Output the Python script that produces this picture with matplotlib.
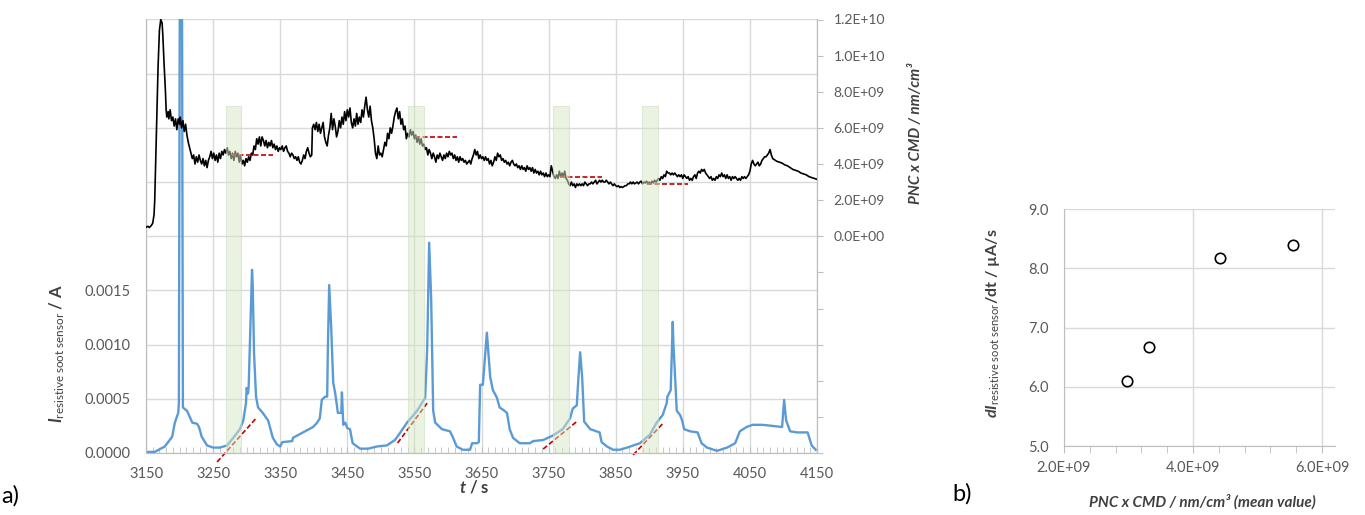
import matplotlib
matplotlib.use('Agg')
import matplotlib.pyplot as plt
from matplotlib.ticker import FixedLocator, MultipleLocator, FuncFormatter

plt.rcParams['font.family'] = ['Lato', 'DejaVu Sans']
plt.rcParams['mathtext.fontset'] = 'custom'
plt.rcParams['mathtext.rm'] = 'Lato'
plt.rcParams['mathtext.it'] = 'Lato:italic'
plt.rcParams['mathtext.bf'] = 'Lato:bold'
plt.rcParams['mathtext.bfit'] = 'Lato:italic:bold'

# --- sensor current (left axis, A) ---
sensor_t = [3150, 3163, 3178, 3189, 3193, 3198, 3199, 3201, 3203, 3205, 3211, 3214, 3219, 3226,
            3229, 3233, 3241, 3250, 3260, 3271, 3280, 3290, 3295, 3299, 3300, 3302, 3303, 3306,
            3308, 3309, 3311, 3314, 3317, 3324, 3332, 3339, 3345, 3350, 3353, 3368, 3369, 3384,
            3399, 3405, 3409, 3412, 3417, 3420, 3421, 3423, 3426, 3429, 3432, 3436, 3441, 3442,
            3444, 3447, 3450, 3454, 3458, 3469, 3481, 3494, 3509, 3521, 3528, 3539, 3554, 3566,
            3569, 3572, 3575, 3578, 3581, 3591, 3603, 3607, 3613, 3622, 3633, 3636, 3643, 3646,
            3648, 3652, 3658, 3663, 3667, 3673, 3677, 3682, 3688, 3692, 3697, 3707, 3722, 3727,
            3742, 3756, 3771, 3782, 3786, 3792, 3794, 3797, 3800, 3803, 3812, 3826, 3829, 3837,
            3846, 3856, 3867, 3886, 3901, 3911, 3920, 3926, 3927, 3932, 3935, 3936, 3941, 3946,
            3949, 3952, 3961, 3972, 3978, 3986, 4001, 4016, 4028, 4035, 4045, 4054, 4069, 4084,
            4098, 4101, 4104, 4110, 4120, 4136, 4142, 4148]
sensor_i = [0.00001, 0.00001, 0.00006, 0.00015, 0.00028, 0.00037, 0.00046, 0.0060, 0.0060, 0.00042,
            0.00039, 0.00035, 0.00028, 0.00027, 0.00024, 0.00015, 0.00007, 0.00005, 0.00005, 0.00007,
            0.00014, 0.00022, 0.00030, 0.00046, 0.00060, 0.00055, 0.00061, 0.00126, 0.00169, 0.00156,
            0.00092, 0.00052, 0.00042, 0.00037, 0.00030, 0.00014, 0.00008, 0.00006, 0.00010, 0.00011,
            0.00014, 0.00019, 0.00024, 0.00028, 0.00032, 0.00049, 0.00052, 0.00052, 0.00095, 0.00155,
            0.00116, 0.00065, 0.00055, 0.00037, 0.00037, 0.00056, 0.00026, 0.00028, 0.00023, 0.00022,
            0.00009, 0.00004, 0.00004, 0.00006, 0.00007, 0.00012, 0.00018, 0.00028, 0.00039, 0.00051,
            0.00095, 0.00194, 0.00142, 0.00039, 0.00028, 0.00022, 0.00020, 0.00015, 0.00006, 0.00003,
            0.00003, 0.00009, 0.00009, 0.00010, 0.00063, 0.00063, 0.00111, 0.00070, 0.00058, 0.00051,
            0.00042, 0.00040, 0.00037, 0.00022, 0.00014, 0.00009, 0.00009, 0.00011, 0.00012, 0.00016,
            0.00022, 0.00032, 0.00041, 0.00044, 0.00065, 0.00093, 0.00070, 0.00029, 0.00022, 0.00019,
            0.00010, 0.00006, 0.00003, 0.00003, 0.00005, 0.00009, 0.00017, 0.00028, 0.00035, 0.00046,
            0.00052, 0.00058, 0.00121, 0.00101, 0.00039, 0.00035, 0.00030, 0.00022, 0.00020, 0.00019,
            0.00009, 0.00005, 0.00002, 0.00005, 0.00009, 0.00020, 0.00024, 0.00026, 0.00026, 0.00025,
            0.00024, 0.00049, 0.00030, 0.00020, 0.00019, 0.00019, 0.00007, 0.00003]

# --- PNC x CMD (right axis, nm/cm3), read as pairs t / value(1e9) ---
pnc_pairs = [
    (3150, 0.50), (3153, 0.55), (3155, 0.48), (3158, 0.60), (3160, 0.72), (3162, 1.2), (3163, 2.0),
    (3165, 5.0), (3168, 9.4), (3170, 11.4), (3172, 12.0), (3174, 11.8), (3175, 11.2), (3177, 9.5),
    (3179, 8.0), (3180, 7.0), (3181, 6.6), (3183, 6.9), (3184, 6.5), (3186, 7.0), (3188, 6.4),
    (3190, 6.6), (3192, 6.1), (3194, 6.5), (3196, 5.9), (3198, 6.5), (3200, 6.2), (3201, 6.6),
    (3203, 6.0), (3205, 6.4), (3207, 5.8), (3209, 6.2), (3211, 5.6), (3213, 5.2), (3215, 4.9),
    (3217, 4.6), (3219, 4.3), (3221, 4.5), (3223, 4.0), (3225, 4.4), (3227, 4.1), (3229, 4.5),
    (3231, 4.2), (3233, 4.0), (3235, 4.3), (3237, 3.9), (3239, 4.2), (3241, 3.8), (3243, 4.2),
    (3245, 4.4), (3247, 4.7), (3249, 4.3), (3251, 4.6), (3253, 4.2), (3255, 4.5), (3257, 4.1),
    (3259, 4.6), (3261, 4.3), (3263, 4.7), (3265, 4.5), (3267, 4.8), (3269, 4.6), (3271, 4.9),
    (3273, 4.5), (3275, 4.7), (3277, 4.3), (3279, 4.6), (3281, 4.2), (3283, 4.7), (3285, 4.4),
    (3287, 4.6), (3289, 4.1), (3291, 4.5), (3293, 4.0), (3295, 4.2), (3297, 3.9), (3299, 4.3),
    (3301, 4.1), (3303, 4.4), (3305, 4.2), (3307, 4.6), (3309, 4.5), (3311, 5.0), (3313, 4.8),
    (3315, 5.4), (3317, 5.1), (3319, 5.5), (3321, 5.0), (3323, 5.5), (3325, 5.3), (3327, 5.0),
    (3329, 5.3), (3331, 4.9), (3333, 5.2), (3335, 5.0), (3337, 5.3), (3339, 4.9), (3341, 5.1),
    (3343, 4.8), (3345, 5.0), (3347, 4.7), (3349, 4.9), (3351, 4.8), (3353, 5.0), (3355, 4.7),
    (3357, 4.9), (3359, 5.0), (3361, 4.7), (3363, 4.6), (3365, 4.4), (3367, 4.6), (3369, 4.5),
    (3371, 4.3), (3373, 4.4), (3375, 4.2), (3377, 4.4), (3379, 4.1), (3381, 4.0), (3383, 4.2),
    (3385, 4.5), (3387, 4.3), (3389, 4.7), (3391, 4.9), (3393, 4.6), (3395, 4.4), (3397, 4.5),
    (3398, 6.0), (3400, 6.2), (3402, 5.9), (3404, 6.3), (3406, 5.8), (3408, 6.2), (3410, 5.7),
    (3412, 6.0), (3414, 6.3), (3416, 5.5), (3418, 5.2), (3420, 5.0), (3422, 5.6), (3424, 6.0),
    (3426, 6.8), (3428, 5.9), (3430, 6.5), (3432, 6.1), (3434, 5.5), (3436, 5.8), (3438, 6.4),
    (3440, 6.0), (3442, 6.6), (3444, 6.2), (3446, 6.9), (3448, 6.4), (3450, 7.0), (3452, 6.6),
    (3454, 7.1), (3456, 6.3), (3458, 6.0), (3460, 6.5), (3462, 6.1), (3464, 6.8), (3466, 6.2),
    (3468, 6.6), (3470, 6.3), (3472, 7.0), (3474, 6.6), (3476, 7.2), (3478, 7.7), (3480, 7.0),
    (3482, 6.6), (3484, 7.2), (3486, 6.4), (3488, 6.0), (3490, 5.4), (3492, 4.6), (3494, 4.3),
    (3496, 5.0), (3498, 4.5), (3500, 4.6), (3502, 4.4), (3504, 4.8), (3506, 5.2), (3508, 5.0),
    (3510, 5.7), (3512, 5.4), (3514, 6.0), (3516, 5.7), (3518, 6.1), (3520, 6.6), (3522, 6.9),
    (3524, 7.1), (3526, 6.5), (3528, 6.9), (3530, 6.2), (3532, 6.5), (3534, 5.9), (3536, 6.1),
    (3538, 5.4), (3540, 5.7), (3542, 5.5), (3544, 5.9), (3546, 5.6), (3548, 5.8), (3550, 5.4),
    (3552, 5.6), (3554, 5.2), (3556, 5.5), (3558, 5.1), (3560, 5.4), (3562, 5.0), (3564, 5.1),
    (3566, 4.8), (3568, 4.9), (3570, 4.5), (3572, 4.8), (3574, 4.6), (3576, 4.3), (3578, 4.6),
    (3580, 4.4), (3582, 4.1), (3584, 4.5), (3586, 4.3), (3588, 4.6), (3590, 4.4), (3592, 4.2),
    (3594, 4.5), (3596, 4.3), (3598, 4.6), (3600, 4.4), (3602, 4.7), (3604, 4.5), (3606, 4.6),
    (3608, 4.3), (3610, 4.5), (3612, 4.2), (3614, 4.4), (3616, 4.1), (3618, 4.4), (3620, 4.2),
    (3622, 4.3), (3624, 4.1), (3626, 4.2), (3628, 4.0), (3630, 4.1), (3632, 4.2), (3634, 4.0),
    (3636, 4.3), (3638, 4.5), (3640, 4.8), (3642, 4.5), (3644, 4.7), (3646, 4.3), (3648, 4.5),
    (3650, 4.3), (3652, 4.4), (3654, 4.2), (3656, 4.4), (3658, 4.2), (3660, 4.3), (3662, 4.0),
    (3664, 4.2), (3666, 3.9), (3668, 4.1), (3670, 4.4), (3672, 4.2), (3674, 4.6), (3676, 4.4),
    (3678, 4.5), (3680, 4.2), (3682, 4.3), (3684, 4.1), (3686, 4.2), (3688, 4.0), (3690, 4.1),
    (3692, 3.9), (3694, 4.1), (3696, 4.2), (3698, 4.0), (3700, 3.9), (3702, 4.0), (3704, 3.8),
    (3706, 3.9), (3708, 3.7), (3710, 3.9), (3712, 3.7), (3714, 3.8), (3716, 3.6), (3718, 3.9),
    (3720, 3.7), (3722, 3.8), (3724, 3.6), (3726, 3.8), (3728, 3.5), (3730, 3.7), (3732, 3.5),
    (3734, 3.6), (3736, 3.4), (3738, 3.6), (3740, 3.4), (3742, 3.5), (3744, 3.3), (3746, 3.5),
    (3748, 3.3), (3750, 3.4), (3752, 3.3), (3754, 3.9), (3756, 3.6), (3758, 3.3), (3760, 3.2),
    (3762, 3.4), (3764, 3.2), (3766, 3.6), (3768, 3.3), (3770, 3.5), (3772, 3.3), (3774, 3.6),
    (3776, 3.2), (3778, 3.1), (3780, 2.9), (3782, 2.8), (3784, 3.0), (3786, 2.8), (3788, 2.9),
    (3790, 2.7), (3792, 2.9), (3794, 2.8), (3796, 2.9), (3798, 2.8), (3800, 2.9), (3802, 2.8),
    (3804, 3.0), (3806, 2.9), (3808, 2.8), (3810, 2.9), (3812, 2.9), (3814, 3.0), (3816, 2.9),
    (3818, 3.0), (3820, 3.1), (3822, 2.9), (3824, 3.0), (3826, 3.1), (3828, 3.0), (3830, 3.1),
    (3832, 3.0), (3834, 3.0), (3836, 3.1), (3838, 3.0), (3840, 2.9), (3842, 3.0), (3844, 2.9),
    (3846, 2.8), (3848, 2.9), (3850, 2.8), (3852, 2.75), (3854, 2.8), (3856, 2.7), (3858, 2.75),
    (3860, 2.7), (3862, 2.75), (3864, 2.8), (3866, 2.8), (3868, 2.9), (3870, 2.9), (3872, 3.0),
    (3874, 2.9), (3876, 3.0), (3878, 2.9), (3880, 2.95), (3882, 3.0), (3884, 2.9), (3886, 3.0),
    (3888, 3.05), (3890, 2.9), (3892, 3.0), (3894, 2.95), (3896, 3.05), (3898, 2.9), (3900, 3.0),
    (3902, 2.9), (3904, 3.05), (3906, 2.95), (3908, 3.1), (3910, 3.0), (3912, 3.1), (3914, 3.2),
    (3916, 3.1), (3918, 3.3), (3920, 3.2), (3922, 3.4), (3924, 3.3), (3926, 3.6), (3928, 3.5),
    (3930, 3.5), (3932, 3.4), (3934, 3.5), (3936, 3.4), (3938, 3.5), (3940, 3.4), (3942, 3.3),
    (3944, 3.4), (3946, 3.3), (3948, 3.4), (3950, 3.2), (3952, 3.4), (3954, 3.3), (3956, 3.2),
    (3958, 3.3), (3960, 3.1), (3962, 3.2), (3964, 3.1), (3966, 3.3), (3968, 3.4), (3970, 3.2),
    (3972, 3.5), (3974, 3.6), (3976, 3.5), (3978, 3.7), (3980, 3.6), (3982, 3.7), (3984, 3.5),
    (3986, 3.4), (3988, 3.3), (3990, 3.2), (3992, 3.3), (3994, 3.1), (3996, 3.2), (3998, 3.1),
    (4000, 3.3), (4002, 3.2), (4004, 3.4), (4006, 3.3), (4008, 3.5), (4010, 3.3), (4012, 3.4),
    (4014, 3.2), (4016, 3.4), (4018, 3.2), (4020, 3.3), (4022, 3.1), (4024, 3.3), (4026, 3.2),
    (4028, 3.3), (4030, 3.2), (4032, 3.1), (4034, 3.2), (4036, 3.1), (4038, 3.3), (4040, 3.2),
    (4042, 3.3), (4044, 3.2), (4046, 3.3), (4048, 3.4), (4050, 3.6), (4052, 4.0), (4054, 4.2),
    (4056, 4.0), (4058, 3.9), (4060, 4.0), (4062, 4.1), (4064, 3.9), (4066, 4.0), (4068, 4.2),
    (4070, 4.3), (4072, 4.4), (4074, 4.4), (4076, 4.5), (4078, 4.6), (4080, 4.8), (4082, 4.5),
    (4084, 4.3), (4086, 4.25), (4088, 4.2), (4090, 4.15), (4094, 4.1), (4098, 4.05), (4102, 3.95),
    (4106, 3.9), (4110, 3.8), (4114, 3.7), (4118, 3.65), (4122, 3.6), (4126, 3.5), (4130, 3.45),
    (4134, 3.4), (4138, 3.3), (4142, 3.25), (4146, 3.2), (4150, 3.15)]
pnc_t = [p[0] for p in pnc_pairs]
pnc_val = [p[1] * 1e9 for p in pnc_pairs]

# evaluation windows (green), mean PNC lines and current slopes
window_start = [3269, 3540, 3757, 3889]
window_end = [3292, 3564, 3780, 3913]
window_top = 7.2e9
mean_t0 = [3277, 3551, 3767, 3897]
mean_t1 = [3339, 3613, 3830, 3958]
mean_pnc = [4.5e9, 5.5e9, 3.28e9, 2.9e9]
slope_t0 = [3256, 3525, 3742, 3876]
slope_t1 = [3314, 3569, 3792, 3920]
slope_i0 = [-0.000083, 0.000092, 0.000037, -0.000018]
slope_i1 = [0.00032, 0.00046, 0.00029, 0.00027]

# x ticks of a)
t_major = [3150, 3250, 3350, 3450, 3550, 3650, 3750, 3850, 3950, 4050, 4150]

# scatter b)
scat_pnc = [2.98e9, 3.32e9, 4.42e9, 5.55e9]
scat_slope = [6.1, 6.67, 8.17, 8.4]

grid_c = '#d9d9d9'
axis_c = '#bfbfbf'
tick_c = '#595959'
label_c = '#404040'

fig = plt.figure(figsize=(13.65, 5.15), dpi=100)

# ---------------- a) ----------------
ax = fig.add_axes([146 / 1365, 62 / 515, 671 / 1365, 433.5 / 515])
ax2 = ax.twinx()

ax.plot(sensor_t, sensor_i, color='#5b9bd5', lw=1.7, zorder=3)
for t0, t1, i0, i1 in zip(slope_t0, slope_t1, slope_i0, slope_i1):
    ax.plot([t0, t1], [i0, i1], color='#c00000', lw=1.2, ls=(0, (3, 1.5)), clip_on=False, zorder=4)

ax2.plot(pnc_t, pnc_val, color='black', lw=1.2, zorder=3)
for t0, t1, p in zip(mean_t0, mean_t1, mean_pnc):
    ax2.plot([t0, t1], [p, p], color='#c00000', lw=1.2, ls=(0, (3, 1.5)), zorder=4)
for s, e in zip(window_start, window_end):
    ax2.bar(s, window_top + 1.2e10, width=e - s, bottom=-1.2e10, align='edge',
            color='#d7e7c7', alpha=0.5, edgecolor='#c9dcb8', lw=0.8, zorder=5)

ax.set_xlim(3150, 4150)
ax.set_ylim(0, 0.004)
ax2.set_ylim(-1.2e10, 1.2e10)

ax.xaxis.set_major_locator(FixedLocator(t_major))
ax.xaxis.set_minor_locator(MultipleLocator(10))
ax.yaxis.set_major_locator(MultipleLocator(0.0005))
ax.yaxis.set_major_formatter(FuncFormatter(lambda v, p: f'{v:.4f}' if v < 0.0016 else ''))
ax2.yaxis.set_major_locator(MultipleLocator(2e9))
ax2.yaxis.set_major_formatter(FuncFormatter(lambda v, p: f'{v:.1E}' if v > -1e8 else ''))

ax.grid(True, which='major', color=grid_c, lw=1)
ax.set_axisbelow(True)
for a in (ax, ax2):
    a.spines['top'].set_visible(False)
    for sp in ['left', 'bottom', 'right']:
        a.spines[sp].set_color(axis_c)

ax.tick_params(axis='x', which='both', direction='in', length=4, color=axis_c,
               labelsize=10.5, labelcolor=tick_c, pad=10)
ax.tick_params(axis='y', length=0, labelsize=10.5, labelcolor=tick_c, pad=11)
ax2.tick_params(axis='y', direction='out', length=4, color=axis_c,
                labelsize=10, labelcolor=tick_c, pad=8)

ax.set_xlabel(r'$\mathbfit{t}$ / s', fontsize=12, fontweight='bold', color=label_c, va='center')
ax.xaxis.set_label_coords(0.49, -0.078)
ax.set_ylabel(r'$\mathbfit{I}_{\mathrm{resistive\ soot\ sensor}}$ / A', fontsize=12,
              fontweight='bold', color=label_c, va='center')
ax.yaxis.set_label_coords(-0.133, 0.23)
ax2.set_ylabel('PNC x CMD / nm/cm³', fontsize=11, fontweight='bold', fontstyle='italic',
               color=label_c, va='center')
ax2.yaxis.set_label_coords(1.148, 0.738)

# ---------------- b) ----------------
bx = fig.add_axes([1064 / 1365, 69 / 515, 271 / 1365, 237 / 515])
bx.plot(scat_pnc, scat_slope, 'o', ms=7.5, mfc='white', mec='black', mew=1.2, zorder=3)
bx.set_xlim(2e9, 6.2e9)
bx.set_ylim(5, 9)
bx.xaxis.set_major_locator(FixedLocator([2e9, 4e9, 6e9]))
bx.xaxis.set_minor_locator(MultipleLocator(4e8))
bx.xaxis.set_major_formatter(FuncFormatter(lambda v, p: f'{v:.1E}'))
bx.yaxis.set_major_locator(MultipleLocator(1))
bx.yaxis.set_major_formatter(FuncFormatter(lambda v, p: f'{v:.1f}'))
bx.grid(True, which='major', color=grid_c, lw=1)
bx.set_axisbelow(True)
for sp in ['top', 'right']:
    bx.spines[sp].set_visible(False)
for sp in ['left', 'bottom']:
    bx.spines[sp].set_color(axis_c)
bx.tick_params(axis='x', which='both', direction='out', length=5, color=axis_c,
               labelsize=10.5, labelcolor=tick_c, pad=6)
bx.tick_params(axis='y', length=0, labelsize=10.5, labelcolor=tick_c, pad=11)
bx.set_xlabel('PNC x CMD / nm/cm³ (mean value)', fontsize=11, fontweight='bold',
              fontstyle='italic', color=label_c, va='center')
bx.xaxis.set_label_coords(0.509, -0.236)
bx.set_ylabel(r'$\mathbfit{dI}_{\mathrm{resistive\ soot\ sensor}}$/dt / µA/s', fontsize=11.5,
              fontweight='bold', color=label_c, va='center')
bx.yaxis.set_label_coords(-0.262, 0.519)

fig.text(0.001, 0.038, 'a)', fontsize=17, va='center', ha='left')
fig.text(952 / 1365, 0.042, 'b)', fontsize=17, va='center', ha='left')

fig.savefig('out.png', dpi=100)
